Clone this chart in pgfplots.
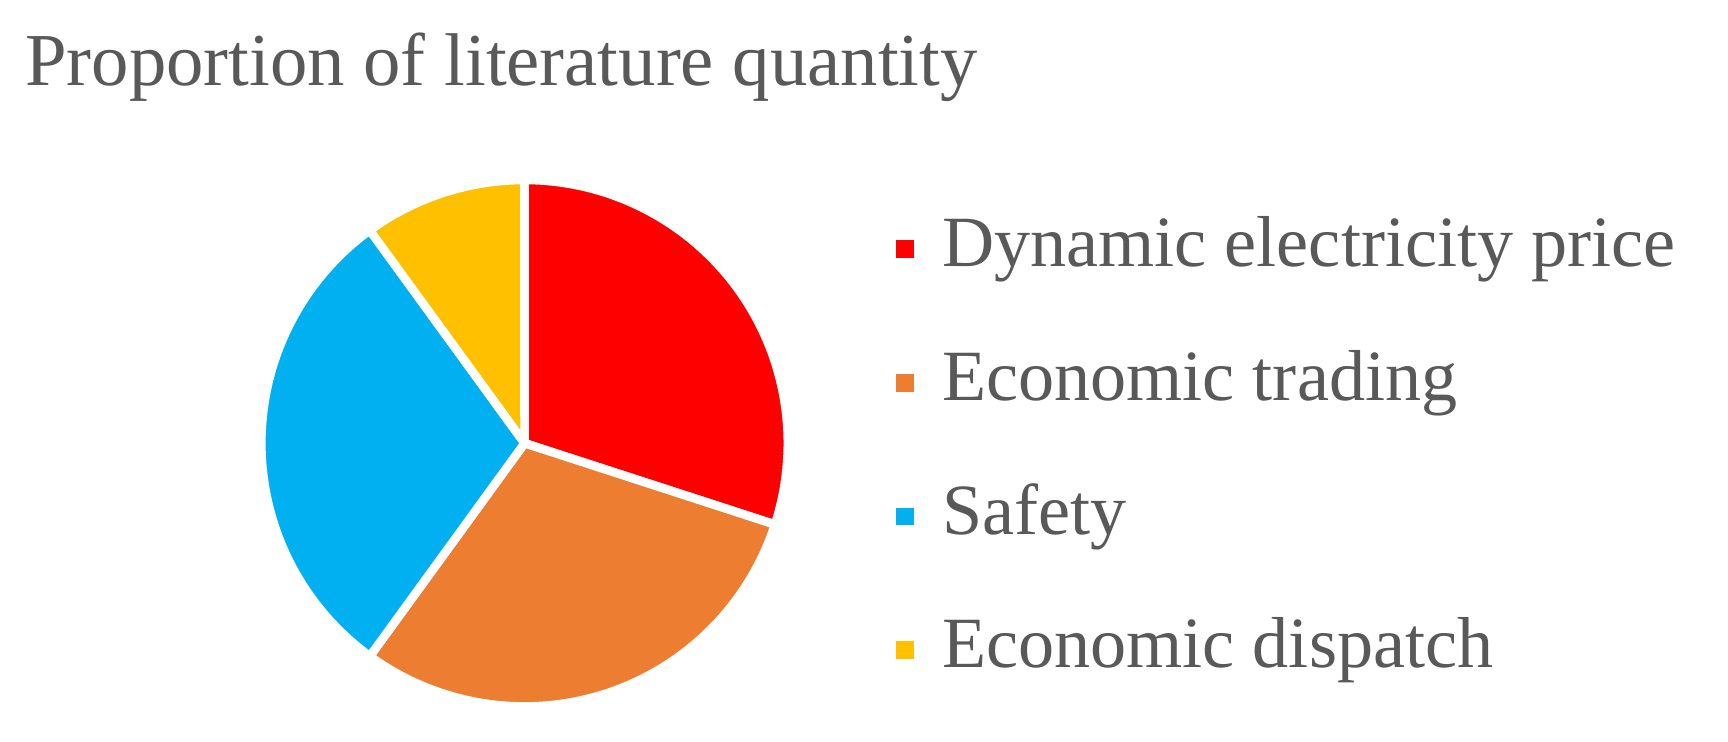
\documentclass[border=0pt]{standalone}
\usepackage{fontspec}
\setmainfont{Liberation Serif}
\usepackage{pgfplots}
\usepackage{pgfplotstable}
\pgfplotsset{compat=1.18}

\definecolor{cRed}{HTML}{FF0000}
\definecolor{cOrange}{HTML}{ED7D31}
\definecolor{cBlue}{HTML}{00B0F0}
\definecolor{cYellow}{HTML}{FFC000}
\definecolor{txtgray}{HTML}{595959}

% share of literature per topic (percent)
\pgfplotstableread{
value color
30 cRed
30 cOrange
30 cBlue
10 cYellow
}\piedata

\pgfplotsset{sq/.style={legend image code/.code={
  \fill[#1, draw=none] (0pt,-1.75pt) rectangle (3.5pt,1.75pt);
  \path[draw=none] (0pt,0pt) -- (9.1pt,0pt);}}}

\begin{document}
\begin{tikzpicture}
\begin{axis}[
    scale only axis, width=340pt, height=146pt,
    xmin=0, xmax=1568, ymin=0, ymax=673,
    hide axis, clip=false,
    legend cell align=left,
    legend style={at={(axis cs:813,477)}, anchor=north west,
        draw=none, fill=none, inner sep=0pt, outer sep=0pt,
        font=\fontsize{14.2}{16}\selectfont, text=txtgray,
        nodes={inner sep=0pt, text height=10pt, text depth=3pt},
        row sep=13.3pt},
]
\path (axis cs:0,0) rectangle (axis cs:1568,673);
\node[anchor=base west, inner sep=0pt, text=txtgray,
      font=\fontsize{14.7}{16}\selectfont] at (axis cs:22,595)
      {Proportion of literature quantity};

\pgfplotstablegetrowsof{\piedata}
\pgfmathtruncatemacro\nrows{\pgfplotsretval-1}
\def\cum{90}
\pgfplotsforeachungrouped \i in {0,...,\nrows}{
  \pgfplotstablegetelem{\i}{value}\of\piedata \let\v\pgfplotsretval
  \pgfplotstablegetelem{\i}{color}\of\piedata \let\c\pgfplotsretval
  \pgfmathsetmacro\endang{\cum-\v/100*360}
  \edef\temp{\noexpand\fill[\c, draw=white, line width=1.7pt, line join=round]
    (axis cs:476,271) -- ++(\cum:51.8pt)
    arc[start angle=\cum, end angle=\endang, radius=51.8pt] -- cycle;}
  \temp
  \global\let\cum\endang
}

\addlegendimage{sq=cRed}
\addlegendentry{Dynamic electricity price}
\addlegendimage{sq=cOrange}
\addlegendentry{Economic trading}
\addlegendimage{sq=cBlue}
\addlegendentry{Safety}
\addlegendimage{sq=cYellow}
\addlegendentry{Economic dispatch}
\end{axis}
\end{tikzpicture}
\end{document}
